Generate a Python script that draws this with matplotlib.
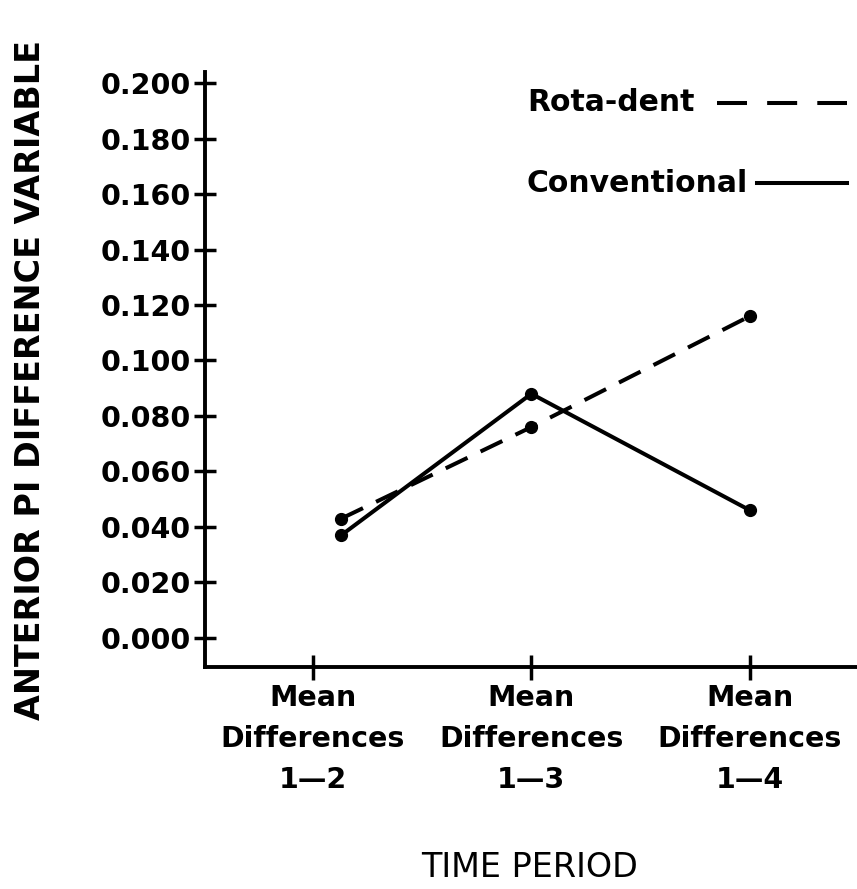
import matplotlib
matplotlib.use("Agg")
import matplotlib.pyplot as plt
from matplotlib.lines import Line2D

categories = ["Mean\nDifferences\n1\u20142", "Mean\nDifferences\n1\u20143", "Mean\nDifferences\n1\u20144"]
x_positions = [1.13, 2.0, 3.0]
rotadent = [0.043, 0.076, 0.116]
conventional = [0.037, 0.088, 0.046]
y_ticks = [0.000, 0.020, 0.040, 0.060, 0.080, 0.100, 0.120, 0.140, 0.160, 0.180, 0.200]

plt.rcParams['font.family'] = ['DejaVu Sans']
plt.rcParams['font.weight'] = 'bold'

fig = plt.figure(figsize=(8.57, 8.89), dpi=100)
ax = fig.add_axes([0.239, 0.2497, 0.761, 0.6693])

lw = 2.9
ax.plot(x_positions, rotadent, color='black', lw=lw, linestyle=(0, (6, 3.6)),
        marker='o', markersize=8.5, dash_capstyle='butt')
ax.plot(x_positions, conventional, color='black', lw=lw, linestyle='-',
        marker='o', markersize=8.5)

ax.set_xlim(0.506, 3.49)
ax.set_ylim(-0.0105, 0.204)

for s in ['top', 'right']:
    ax.spines[s].set_visible(False)
for s in ['left', 'bottom']:
    ax.spines[s].set_linewidth(2.8)

ax.set_yticks(y_ticks)
ax.set_yticklabels([f"{v:.3f}" for v in y_ticks], fontsize=20.5, fontweight='bold')
ax.set_xticks([1, 2, 3])
ax.set_xticklabels(categories, fontsize=20.5, fontweight='bold', linespacing=1.6)
ax.tick_params(axis='y', direction='inout', length=16, width=2.5, pad=2)
ax.tick_params(axis='x', direction='inout', length=18, width=2.5, pad=3)

fig.text(0.036, 0.573, "ANTERIOR PI DIFFERENCE VARIABLE", rotation=90,
         ha='center', va='center', fontsize=24, fontweight='bold')
fig.text(0.618, 0.024, "TIME PERIOD", ha='center', va='center',
         fontsize=24, fontweight='normal')

# legend (manual keys)
ax.text(0.494, 0.948, "Rota-dent", transform=ax.transAxes, fontsize=21.5,
        fontweight='bold', va='center', ha='left')
ax.text(0.494, 0.813, "Conventional", transform=ax.transAxes, fontsize=21.5,
        fontweight='bold', va='center', ha='left')
ax.add_line(Line2D([0.785, 0.985], [0.948, 0.948], transform=ax.transAxes,
                   color='black', lw=lw, linestyle=(0, (7.45, 5.0)), dash_capstyle='butt'))
ax.add_line(Line2D([0.846, 0.985], [0.813, 0.813], transform=ax.transAxes,
                   color='black', lw=lw, linestyle='-'))

fig.savefig("out.png", dpi=100, facecolor='white')
